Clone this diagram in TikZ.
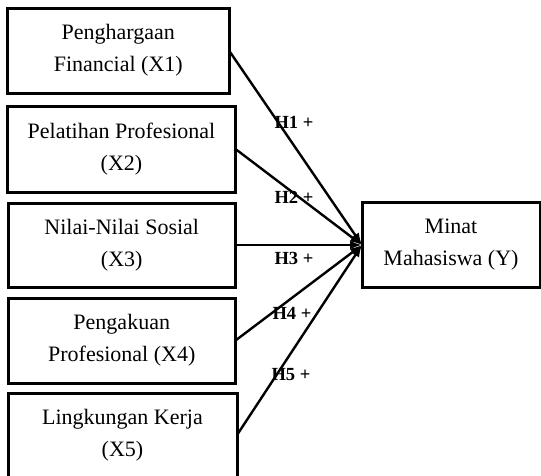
\documentclass[tikz,border=0pt]{standalone}
\usepackage{fontspec}
\setmainfont{Liberation Serif}
\usetikzlibrary{arrows.meta}
\begin{document}
\begin{tikzpicture}[x=1pt,y=-1pt,
  box/.style={draw=black, line width=3pt, rectangle, inner sep=0pt, outer sep=0pt, align=center, font=\fontsize{22}{32}\selectfont},
  link/.style={line width=2.4pt, -{Latex[length=12pt,width=9pt]}},
  hyp/.style={font=\fontsize{18.5}{20}\selectfont\bfseries, inner sep=0pt}]
\useasboundingbox (0,0) rectangle (541,475);
\node[box, minimum width=221.5pt, minimum height=85pt] (x1) at (118.25,50.5) {Penghargaan\\Financial (X1)};
\node[box, minimum width=228pt, minimum height=86pt] (x2) at (121.5,149) {Pelatihan Profesional\\(X2)};
\node[box, minimum width=227.5pt, minimum height=84pt] (x3) at (121.75,245) {Nilai-Nilai Sosial\\(X3)};
\node[box, minimum width=227.5pt, minimum height=85pt] (x4) at (121.75,340.5) {Pengakuan\\Profesional (X4)};
\node[box, minimum width=229pt, minimum height=84pt] (x5) at (122.5,435) {Lingkungan Kerja\\(X5)};
\node[box, minimum width=178pt, minimum height=85pt] (y) at (451,245) {Minat\\Mahasiswa (Y)};
\draw[link] (x1.east) -- (y.west);
\draw[link] (x2.east) -- (y.west);
\draw[link] (x3.east) -- (y.west);
\draw[link] (x4.east) -- (y.west);
\draw[link] (x5.east) -- (y.west);
\node[hyp] (h1) at (294,122) {H1 +};
\node[hyp] (h2) at (294,197) {H2 +};
\node[hyp] (h3) at (294,258) {H3 +};
\node[hyp] (h4) at (292,313) {H4 +};
\node[hyp] (h5) at (291,375) {H5 +};
\end{tikzpicture}
\end{document}
